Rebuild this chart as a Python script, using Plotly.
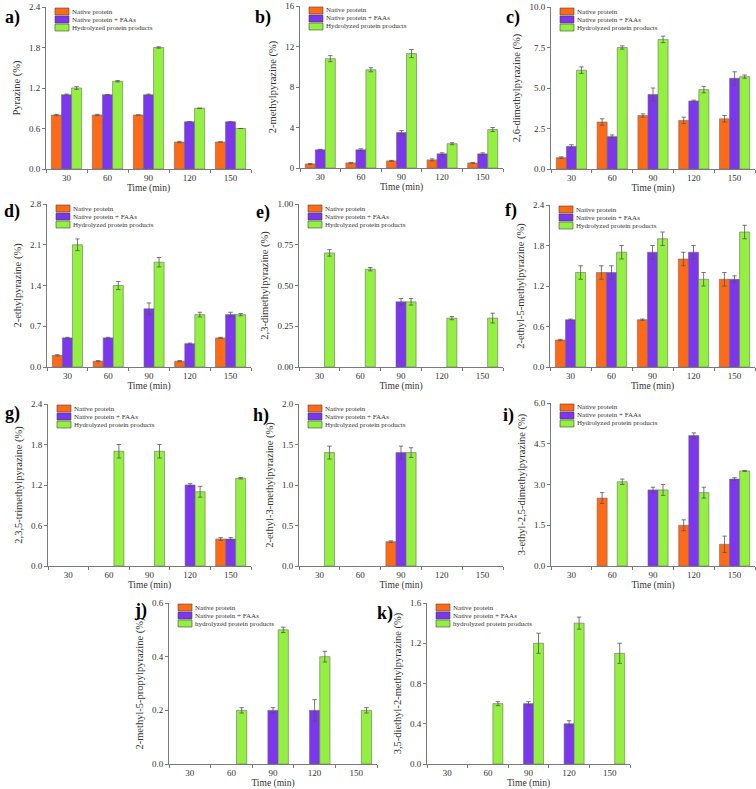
import plotly.graph_objects as go

# ---------------- data ----------------
times = ["30", "60", "90", "120", "150"]
series_names = ["Native protein", "Native protein + FAAs", "Hydrolyzed protein products"]
series_names_lc = ["Native protein", "Native protein + FAAs", "hydrolyzed protein products"]

# a) Pyrazine
a_native = [0.8, 0.8, 0.8, 0.4, 0.4]
a_faas = [1.1, 1.1, 1.1, 0.7, 0.7]
a_hydro = [1.2, 1.3, 1.8, 0.9, 0.6]
a_native_sd = [0.01, 0.01, 0.0, 0.01, 0.0]
a_faas_sd = [0.01, 0.0, 0.01, 0.0, 0.0]
a_hydro_sd = [0.02, 0.01, 0.01, 0.0, 0.0]

# b) 2-methylpyrazine
b_native = [0.4, 0.5, 0.7, 0.8, 0.5]
b_faas = [1.8, 1.8, 3.5, 1.4, 1.4]
b_hydro = [10.8, 9.7, 11.3, 2.4, 3.8]
b_native_sd = [0.05, 0.05, 0.05, 0.1, 0.05]
b_faas_sd = [0.05, 0.1, 0.2, 0.1, 0.1]
b_hydro_sd = [0.3, 0.2, 0.4, 0.1, 0.2]

# c) 2,6-dimethylpyrazine
c_native = [0.7, 2.9, 3.3, 3.0, 3.1]
c_faas = [1.4, 2.0, 4.6, 4.2, 5.6]
c_hydro = [6.1, 7.5, 8.0, 4.9, 5.7]
c_native_sd = [0.05, 0.2, 0.1, 0.2, 0.2]
c_faas_sd = [0.1, 0.1, 0.4, 0.05, 0.4]
c_hydro_sd = [0.2, 0.1, 0.2, 0.2, 0.1]

# d) 2-ethylpyrazine
d_native = [0.2, 0.1, 0.0, 0.1, 0.5]
d_faas = [0.5, 0.5, 1.0, 0.4, 0.9]
d_hydro = [2.1, 1.4, 1.8, 0.9, 0.9]
d_native_sd = [0.01, 0.01, None, 0.01, 0.01]
d_faas_sd = [0.01, 0.01, 0.1, 0.01, 0.04]
d_hydro_sd = [0.1, 0.07, 0.08, 0.04, 0.02]

# e) 2,3-dimethylpyrazine
e_native = [0.0, 0.0, 0.0, 0.0, 0.0]
e_faas = [0.0, 0.0, 0.4, 0.0, 0.0]
e_hydro = [0.7, 0.6, 0.4, 0.3, 0.3]
e_native_sd = [None, None, None, None, None]
e_faas_sd = [None, None, 0.02, None, None]
e_hydro_sd = [0.02, 0.01, 0.02, 0.01, 0.03]

# f) 2-ethyl-5-methylpyrazine
f_native = [0.4, 1.4, 0.7, 1.6, 1.3]
f_faas = [0.7, 1.4, 1.7, 1.7, 1.3]
f_hydro = [1.4, 1.7, 1.9, 1.3, 2.0]
f_native_sd = [0.01, 0.1, 0.01, 0.1, 0.1]
f_faas_sd = [0.01, 0.1, 0.1, 0.1, 0.05]
f_hydro_sd = [0.1, 0.1, 0.1, 0.1, 0.1]

# g) 2,3,5-trimethylpyrazine
g_native = [0.0, 0.0, 0.0, 0.0, 0.4]
g_faas = [0.0, 0.0, 0.0, 1.2, 0.4]
g_hydro = [0.0, 1.7, 1.7, 1.1, 1.3]
g_native_sd = [None, None, None, None, 0.02]
g_faas_sd = [None, None, None, 0.02, 0.02]
g_hydro_sd = [None, 0.1, 0.1, 0.08, 0.01]

# h) 2-ethyl-3-methylpyrazine
h_native = [0.0, 0.0, 0.3, 0.0, 0.0]
h_faas = [0.0, 0.0, 1.4, 0.0, 0.0]
h_hydro = [1.4, 0.0, 1.4, 0.0, 0.0]
h_native_sd = [None, None, 0.01, None, None]
h_faas_sd = [None, None, 0.08, None, None]
h_hydro_sd = [0.08, None, 0.06, None, None]

# i) 3-ethyl-2,5-dimethylpyrazine
i_native = [0.0, 2.5, 0.0, 1.5, 0.8]
i_faas = [0.0, 0.0, 2.8, 4.8, 3.2]
i_hydro = [0.0, 3.1, 2.8, 2.7, 3.5]
i_native_sd = [None, 0.2, None, 0.2, 0.3]
i_faas_sd = [None, None, 0.1, 0.1, 0.05]
i_hydro_sd = [None, 0.1, 0.2, 0.2, 0.02]

# j) 2-methyl-5-propylpyrazine
j_native = [0.0, 0.0, 0.0, 0.0, 0.0]
j_faas = [0.0, 0.0, 0.2, 0.2, 0.0]
j_hydro = [0.0, 0.2, 0.5, 0.4, 0.2]
j_native_sd = [None, None, None, None, None]
j_faas_sd = [None, None, 0.01, 0.04, None]
j_hydro_sd = [None, 0.01, 0.01, 0.02, 0.01]

# k) 3,5-diethyl-2-methylpyrazine
k_native = [0.0, 0.0, 0.0, 0.0, 0.0]
k_faas = [0.0, 0.0, 0.6, 0.4, 0.0]
k_hydro = [0.0, 0.6, 1.2, 1.4, 1.1]
k_native_sd = [None, None, None, None, None]
k_faas_sd = [None, None, 0.02, 0.03, None]
k_hydro_sd = [None, 0.02, 0.1, 0.06, 0.1]

panel_letters = ["a)", "b)", "c)", "d)", "e)", "f)", "g)", "h)", "i)", "j)", "k)"]
y_titles = [
    "Pyrazine (%)", "2-methylpyrazine (%)", "2,6-dimethylpyrazine (%)",
    "2-ethylpyrazine (%)", "2,3-dimethylpyrazine (%)", "2-ethyl-5-methylpyrazine (%)",
    "2,3,5-trimethylpyrazine (%)", "2-ethyl-3-methylpyrazine (%)", "3-ethyl-2,5-dimethylpyrazine (%)",
    "2-methyl-5-propylpyrazine (%)", "3,5-diethyl-2-methylpyrazine (%)",
]
y_max = [2.4, 16, 10.0, 2.8, 1.0, 2.4, 2.4, 2.0, 6.0, 0.6, 1.6]
y_dtick = [0.6, 4, 2.5, 0.7, 0.25, 0.6, 0.6, 0.5, 1.5, 0.2, 0.4]
y_fmt = [".1f", "d", ".1f", ".1f", ".2f", ".1f", ".1f", ".1f", ".1f", ".1f", ".1f"]

panel_data = [
    (a_native, a_faas, a_hydro, a_native_sd, a_faas_sd, a_hydro_sd),
    (b_native, b_faas, b_hydro, b_native_sd, b_faas_sd, b_hydro_sd),
    (c_native, c_faas, c_hydro, c_native_sd, c_faas_sd, c_hydro_sd),
    (d_native, d_faas, d_hydro, d_native_sd, d_faas_sd, d_hydro_sd),
    (e_native, e_faas, e_hydro, e_native_sd, e_faas_sd, e_hydro_sd),
    (f_native, f_faas, f_hydro, f_native_sd, f_faas_sd, f_hydro_sd),
    (g_native, g_faas, g_hydro, g_native_sd, g_faas_sd, g_hydro_sd),
    (h_native, h_faas, h_hydro, h_native_sd, h_faas_sd, h_hydro_sd),
    (i_native, i_faas, i_hydro, i_native_sd, i_faas_sd, i_hydro_sd),
    (j_native, j_faas, j_hydro, j_native_sd, j_faas_sd, j_hydro_sd),
    (k_native, k_faas, k_hydro, k_native_sd, k_faas_sd, k_hydro_sd),
]

colors = ["#FF6A17", "#7B36EE", "#93EF40"]

# ---------------- layout geometry (pixels) ----------------
W, H = 756, 789
# left, right, top, bottom of each plot area
boxes = [
    (46, 251, 7, 169), (300, 503, 6, 168), (551, 755, 7, 169),
    (47, 251, 204, 367), (299, 503, 204, 367), (550, 755, 205, 367),
    (48, 251, 404, 566), (299, 503, 404, 566), (551, 755, 403, 566),
    (169, 377, 603, 764), (427, 630, 603, 764),
]
label_pos = [
    (12, 17), (263, 17), (513, 18),
    (12, 212), (263, 213), (511, 210),
    (12, 413), (261, 415), (508, 415),
    (140, 610), (385, 613),
]

FONT = "Liberation Serif, Times New Roman, serif"
AXC = "#7a7a7a"
TXT = "#333333"

fig = go.Figure()
layout = dict(
    width=W, height=H, autosize=False,
    margin=dict(l=0, r=0, t=0, b=0),
    paper_bgcolor="white", plot_bgcolor="white",
    barmode="group", bargap=0.26, bargroupgap=0.0,
    showlegend=False,
    font=dict(family=FONT, size=9, color=TXT),
)
shapes = []
annotations = []

for n in range(11):
    idx = "" if n == 0 else str(n + 1)
    xa, ya = "x" + idx, "y" + idx
    vals = panel_data[n][:3]
    sds = panel_data[n][3:]
    for s in range(3):
        fig.add_trace(go.Bar(
            x=times, y=[v if v > 0 else None for v in vals[s]], name=series_names[s],
            xaxis=xa, yaxis=ya,
            offsetgroup=str(s),
            marker=dict(color=colors[s], line=dict(color="#6e6e6e", width=0.6)),
            error_y=dict(type="data", array=sds[s], visible=True,
                         color="#555555", thickness=0.8, width=2.2),
        ))
    l, r, t, b = boxes[n]
    layout["xaxis" + idx] = dict(
        domain=[l / W, r / W], anchor=ya, type="category",
        range=[-0.5, 4.5],
        showline=True, linecolor=AXC, linewidth=1,
        ticks="outside", ticklen=3, tickcolor=AXC, tickson="boundaries",
        tickfont=dict(family=FONT, size=9, color=TXT),
        title=dict(text="Time (min)", font=dict(family=FONT, size=9.5, color=TXT), standoff=1),
        showgrid=False, zeroline=False, automargin=False, fixedrange=True,
    )
    layout["yaxis" + idx] = dict(
        domain=[1 - b / H, 1 - t / H], anchor=xa,
        range=[0, y_max[n]], dtick=y_dtick[n], tick0=0, tickformat=y_fmt[n],
        showline=True, linecolor=AXC, linewidth=1,
        ticks="outside", ticklen=3, tickcolor=AXC,
        tickfont=dict(family=FONT, size=9, color=TXT),
        title=dict(text=y_titles[n], font=dict(family=FONT, size=10.5, color=TXT), standoff=6),
        showgrid=False, zeroline=False, automargin=False, fixedrange=True,
    )
    # manual legend in each panel
    pw, ph = r - l, b - t
    names = series_names_lc if n >= 9 else series_names
    for s in range(3):
        bx0, bx1 = 9, 23
        by0, by1 = 1 + s * 8, 8 + s * 8
        shapes.append(dict(
            type="rect", xref=xa + " domain", yref=ya + " domain",
            x0=bx0 / pw, x1=bx1 / pw, y0=1 - by1 / ph, y1=1 - by0 / ph,
            fillcolor=colors[s], line=dict(color="#444444", width=0.6), layer="above",
        ))
        annotations.append(dict(
            xref=xa + " domain", yref=ya + " domain",
            x=(bx1 + 2) / pw, y=1 - (by0 + by1) / 2 / ph,
            xanchor="left", yanchor="middle", showarrow=False,
            text=names[s], font=dict(family=FONT, size=7, color=TXT),
            borderpad=0,
        ))
    lx, ly = label_pos[n]
    annotations.append(dict(
        xref="paper", yref="paper", x=lx / W, y=1 - ly / H,
        xanchor="center", yanchor="middle", showarrow=False,
        text="<b>" + panel_letters[n] + "</b>",
        font=dict(family=FONT, size=18, color="black"),
    ))

layout["shapes"] = shapes
layout["annotations"] = annotations
fig.update_layout(**layout)
fig.write_html(
    "out.html",
    config={"displayModeBar": False},
    post_script="document.body.style.margin='0';document.body.style.overflow='hidden';",
)
